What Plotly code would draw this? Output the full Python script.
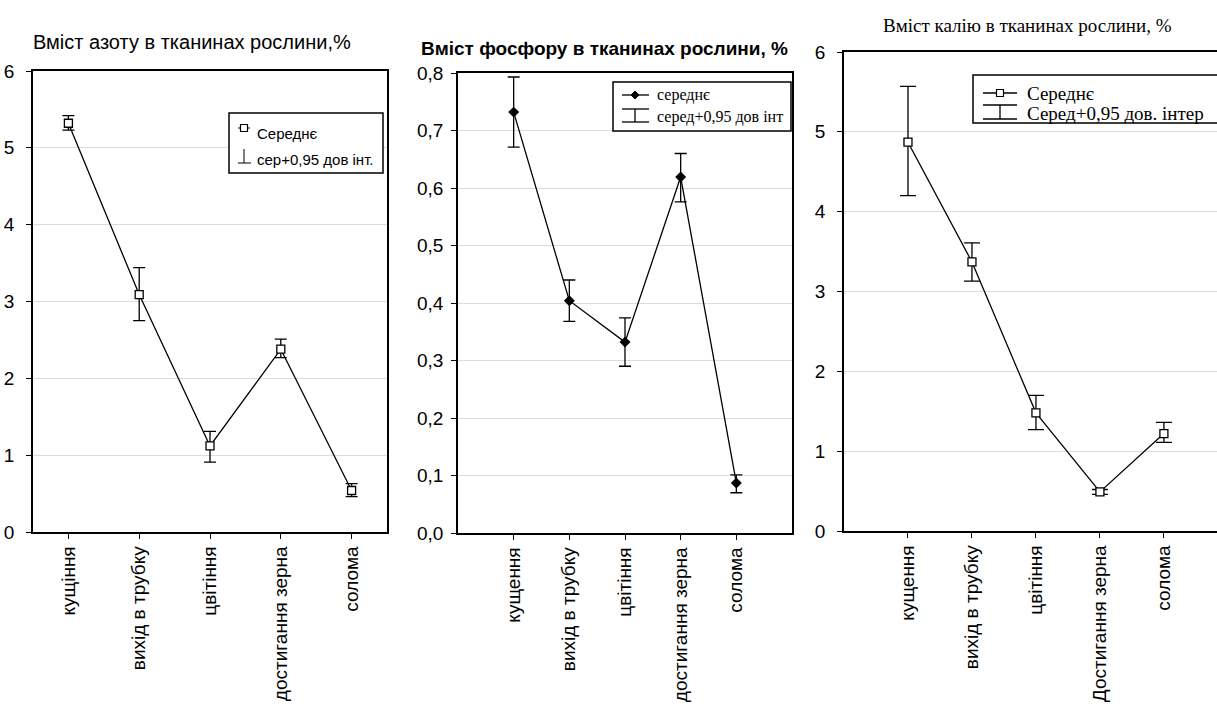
import plotly.graph_objects as go

W, H = 1217, 715

# ---------------- data ----------------
cats_n = ["кущіння", "вихід в трубку", "цвітіння", "достигання зерна", "солома"]
mean_n = [5.32, 3.09, 1.12, 2.38, 0.54]
up_n = [5.42, 3.44, 1.31, 2.51, 0.63]
lo_n = [5.23, 2.75, 0.91, 2.27, 0.46]

cats_p = ["кущення", "вихід в трубку", "цвітіння", "достигання зерна", "солома"]
mean_p = [0.732, 0.404, 0.332, 0.619, 0.087]
up_p = [0.793, 0.440, 0.374, 0.660, 0.101]
lo_p = [0.671, 0.368, 0.290, 0.576, 0.070]

cats_k = ["кущення", "вихід в трубку", "цвітіння", "Достигання зерна", "солома"]
mean_k = [4.87, 3.37, 1.48, 0.49, 1.22]
up_k = [5.57, 3.61, 1.70, 0.52, 1.36]
lo_k = [4.20, 3.13, 1.27, 0.46, 1.11]

title_n = "Вміст азоту в тканинах рослини,%"
title_p = "<b>Вміст фосфору в тканинах рослини, %</b>"
title_k = "Вміст калію в тканинах рослини, %"

SANS = "Liberation Sans, Arial, sans-serif"
SERIF = "Liberation Serif, Times New Roman, serif"


def px(x):
    return x / W


def py(y):
    return 1 - y / H


fig = go.Figure()


def add_panel(idx, cats, mean, up, lo, symbol, msize, capw, fill):
    xa = "x" if idx == 1 else f"x{idx}"
    ya = "y" if idx == 1 else f"y{idx}"
    fig.add_trace(go.Scatter(
        x=list(range(len(cats))), y=mean, xaxis=xa, yaxis=ya,
        mode="lines+markers",
        line=dict(color="black", width=1.3),
        marker=dict(symbol=symbol, size=msize, color=fill,
                    line=dict(color="black", width=1.3)),
        error_y=dict(type="data", symmetric=False,
                     array=[u - m for u, m in zip(up, mean)],
                     arrayminus=[m - l for m, l in zip(mean, lo)],
                     color="black", thickness=1.3, width=capw),
        showlegend=False,
    ))


add_panel(1, cats_n, mean_n, up_n, lo_n, "square", 8, 6, "white")
add_panel(2, cats_p, mean_p, up_p, lo_p, "diamond", 7, 6, "black")
add_panel(3, cats_k, mean_k, up_k, lo_k, "square", 8, 8, "white")

axis_common = dict(showline=True, linecolor="black", linewidth=1.5, mirror=True,
                   ticks="outside", ticklen=5, tickcolor="black", tickwidth=1.3,
                   zeroline=False, automargin=False)

xfont = dict(family=SANS, size=19, color="black")
yfont = dict(family=SANS, size=19, color="black")

fig.update_layout(
    width=W, height=H,
    margin=dict(l=0, r=0, t=0, b=0, pad=0),
    paper_bgcolor="white", plot_bgcolor="white",
    separators=",.",
    showlegend=False,
    xaxis=dict(domain=[px(33), px(387)], range=[-0.5, 4.5], tickvals=list(range(5)),
               ticktext=cats_n, tickangle=-90, tickfont=xfont, showgrid=False, anchor="y",
               **axis_common),
    yaxis=dict(domain=[py(532), py(71)], range=[0, 6], dtick=1, tickfont=yfont,
               showgrid=True, gridcolor="#dcdcdc", gridwidth=1, anchor="x",
               ticklabelstandoff=8, **axis_common),
    xaxis2=dict(domain=[px(458), px(792)], range=[-1, 5], tickvals=list(range(5)),
                ticktext=cats_p, tickangle=-90, tickfont=xfont, showgrid=False, anchor="y2",
                **axis_common),
    yaxis2=dict(domain=[py(533), py(73)], range=[0, 0.8], dtick=0.1, tickformat=".1f",
                tickfont=yfont, showgrid=True, gridcolor="#dcdcdc", gridwidth=1, anchor="x2",
                ticklabelstandoff=4, **axis_common),
    xaxis3=dict(domain=[px(844), 1.0], range=[-1, 4.83], tickvals=list(range(5)),
                ticktext=cats_k, tickangle=-90, tickfont=xfont, showgrid=False, anchor="y3",
                **axis_common),
    yaxis3=dict(domain=[py(531), py(52)], range=[0, 6], dtick=1, tickfont=yfont,
                showgrid=True, gridcolor="#dcdcdc", gridwidth=1, anchor="x3",
                ticklabelstandoff=8, **axis_common),
)

ann = []
# titles
ann.append(dict(text=title_n, x=px(31), y=py(42), xref="paper", yref="paper",
                xanchor="left", yanchor="middle", showarrow=False,
                font=dict(family=SANS, size=20, color="black")))
ann.append(dict(text=title_p, x=px(419), y=py(48), xref="paper", yref="paper",
                xanchor="left", yanchor="middle", showarrow=False,
                font=dict(family=SANS, size=19, color="black")))
ann.append(dict(text=title_k, x=px(1027), y=py(25), xref="paper", yref="paper",
                xanchor="center", yanchor="middle", showarrow=False,
                font=dict(family=SERIF, size=19, color="black")))

shapes = []


def box(x0, y0, x1, y1):
    shapes.append(dict(type="rect", xref="paper", yref="paper", x0=px(x0), x1=px(x1),
                       y0=py(y1), y1=py(y0), line=dict(color="black", width=1.5),
                       fillcolor="white", layer="above"))


def line(x0, y0, x1, y1, w=1.3):
    shapes.append(dict(type="line", xref="paper", yref="paper", x0=px(x0), x1=px(x1),
                       y0=py(y0), y1=py(y1), line=dict(color="black", width=w), layer="above"))


def sq(cx, cy, s):
    shapes.append(dict(type="rect", xref="paper", yref="paper", x0=px(cx - s), x1=px(cx + s),
                       y0=py(cy + s), y1=py(cy - s), line=dict(color="black", width=1.2),
                       fillcolor="white", layer="above"))


def diamond(cx, cy, s):
    path = (f"M {px(cx)},{py(cy - s)} L {px(cx + s)},{py(cy)} L {px(cx)},{py(cy + s)} "
            f"L {px(cx - s)},{py(cy)} Z")
    shapes.append(dict(type="path", xref="paper", yref="paper", path=path,
                       line=dict(color="black", width=1), fillcolor="black", layer="above"))


def text(t, x, y, font, size):
    ann.append(dict(text=t, x=px(x), y=py(y), xref="paper", yref="paper",
                    xanchor="left", yanchor="middle", showarrow=False,
                    font=dict(family=font, size=size, color="black")))


# legend 1
box(229, 113, 383, 173)
line(238, 128, 250, 128, 1)
sq(244, 128, 3.5)
text("Середнє", 255, 133, SANS, 15)
line(244, 149, 244, 163, 1)
line(238, 163, 251, 163, 1)
text("сер+0,95 дов інт.", 255, 160, SANS, 15)

# legend 2
box(613, 82, 791, 131)
line(622, 95, 649, 95)
diamond(635, 95, 4)
text("середнє", 655, 95, SERIF, 16)
line(635, 109, 635, 122)
line(622, 109, 649, 109)
line(622, 122, 649, 122)
text("серед+0,95 дов інт", 655, 117, SERIF, 16)

# legend 3
box(973, 75, 1225, 123)
line(983, 93, 1017, 93)
sq(1000, 93, 3.5)
text("Середнє", 1025, 93, SERIF, 19)
line(1000, 105, 1000, 119)
line(983, 105, 1017, 105)
line(983, 119, 1017, 119)
text("Серед+0,95 дов. інтер", 1025, 113, SERIF, 19)

fig.update_layout(annotations=ann, shapes=shapes)
fig.write_html("out.html",
               config={"displayModeBar": False},
               post_script="document.body.style.margin='0';document.body.style.overflow='hidden';")
